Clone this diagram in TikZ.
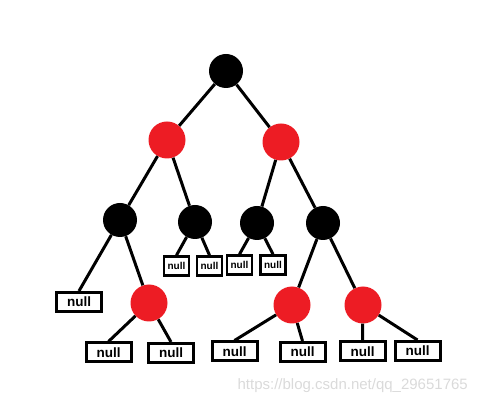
\documentclass[tikz,border=0pt]{standalone}
\usepackage{fontspec}
\setmainfont{Liberation Sans}
\definecolor{rbred}{HTML}{ED1C24}
\definecolor{wm}{HTML}{DADADA}
\begin{document}
\begin{tikzpicture}[x=1pt,y=-1pt,
  blk/.style={circle,fill=black,minimum size=34pt,inner sep=0pt},
  rd/.style={circle,fill=rbred,minimum size=37pt,inner sep=0pt},
  bignull/.style={draw,line width=3pt,minimum width=45pt,minimum height=19pt,inner sep=0pt,font=\fontsize{13.5}{13.5}\selectfont\bfseries},
  smallnull/.style={draw,line width=2.5pt,minimum width=25pt,minimum height=19pt,inner sep=0pt,font=\fontsize{10}{10}\selectfont\bfseries},
  edge/.style={line width=3pt}]
\useasboundingbox (0,0) rectangle (477,403);
\node[blk] (r) at (226,71) {};
\node[rd] (a) at (167,140) {};
\node[rd] (b) at (281,142) {};
\node[blk] (c) at (120,220) {};
\node[blk] (d) at (195,222) {};
\node[blk] (e) at (257,223) {};
\node[blk] (f) at (323,223) {};
\node[smallnull] (n1) at (176.5,266) {null};
\node[smallnull] (n2) at (209.5,266) {null};
\node[smallnull] (n3) at (239.5,265) {null};
\node[smallnull] (n4) at (273,265) {null};
\node[bignull] (n0) at (79,302) {null};
\node[rd] (g) at (149,303) {};
\node[rd] (h) at (292,305) {};
\node[rd] (i) at (363,305) {};
\node[bignull] (n5) at (108.5,352.5) {null};
\node[bignull] (n6) at (171,353) {null};
\node[bignull] (n7) at (234.5,351.5) {null};
\node[bignull] (n8) at (302.5,352) {null};
\node[bignull] (n9) at (362.5,351.5) {null};
\node[bignull] (n10) at (417.5,351) {null};
\draw[edge] (r) -- (a);
\draw[edge] (r) -- (b);
\draw[edge] (a) -- (c);
\draw[edge] (a) -- (d);
\draw[edge] (b) -- (e);
\draw[edge] (b) -- (f);
\draw[edge] (c) -- (n0.north);
\draw[edge] (c) -- (g);
\draw[edge] (d) -- (n1.north);
\draw[edge] (d) -- (n2.north);
\draw[edge] (e) -- (n3.north);
\draw[edge] (e) -- (n4.north);
\draw[edge] (f) -- (h);
\draw[edge] (f) -- (i);
\draw[edge] (g) -- (n5.north);
\draw[edge] (g) -- (n6.north);
\draw[edge] (h) -- (n7.north);
\draw[edge] (h) -- (n8.north);
\draw[edge] (i) -- (n9.north);
\draw[edge] (i) -- (n10.north);
\node[anchor=base east,text=wm,font=\fontsize{15}{15}\selectfont,inner sep=0pt] (w) at (468,390) {https://blog.csdn.net/qq\_29651765};
\end{tikzpicture}
\end{document}
